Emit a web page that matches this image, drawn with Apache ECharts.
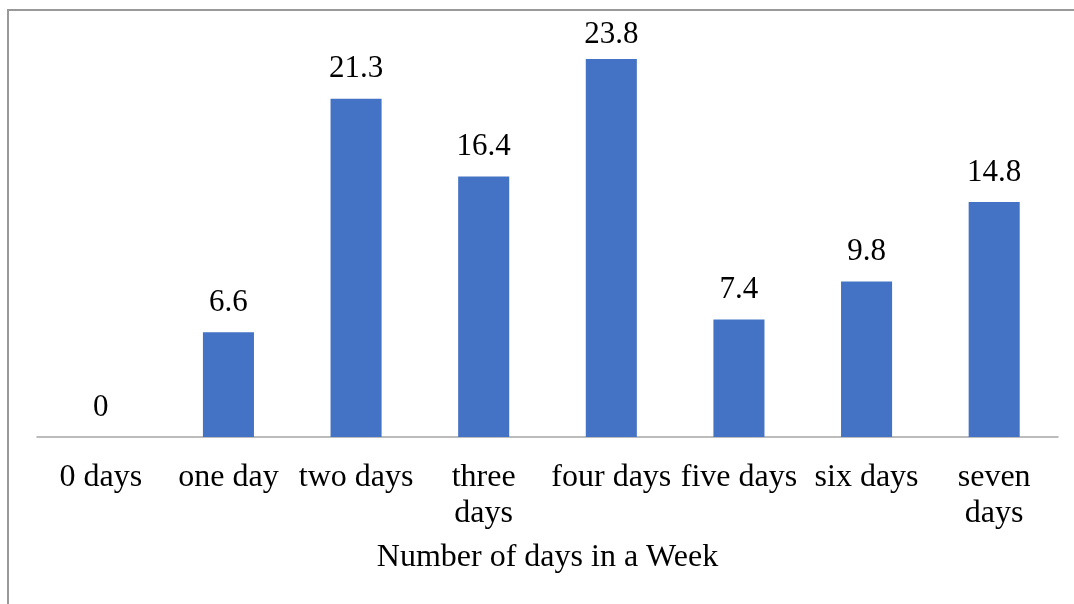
<!DOCTYPE html>
<html>
<head>
<meta charset="utf-8">
<script src="https://cdn.jsdelivr.net/npm/echarts@6/dist/echarts.min.js"></script>
<style>
  html, body { margin: 0; padding: 0; background: #fff; }
  #chart { width: 1074px; height: 604px; }
</style>
</head>
<body>
<div id="chart"></div>
<script>
// Days per week categories and percentage values
const categories = ['0 days', 'one day', 'two days', 'three\ndays', 'four days', 'five days', 'six days', 'seven\ndays'];
const values = [0, 6.6, 21.3, 16.4, 23.8, 7.4, 9.8, 14.8];
const axisTitle = 'Number of days in a Week';

const chart = echarts.init(document.getElementById('chart'));
const font = '"Liberation Serif", "Times New Roman", serif';
const maxValue = Math.max(...values);

// the tallest bar's label sits a little tighter so it stays under the frame
const barData = values.map(v => v === maxValue
  ? { value: v, label: { distance: 9 } }
  : v);

chart.setOption({
  animation: false,
  backgroundColor: '#ffffff',
  grid: { left: 37, right: 16, top: 40, bottom: 167 },
  xAxis: {
    type: 'category',
    data: categories,
    axisLine: { show: true, lineStyle: { color: '#a6a6a6', width: 1.5 } },
    axisTick: { show: false },
    axisLabel: {
      interval: 0,
      color: '#000',
      fontFamily: font,
      fontSize: 32,
      lineHeight: 36,
      margin: 23
    },
    name: axisTitle,
    nameLocation: 'middle',
    nameGap: 105,
    nameTextStyle: { color: '#000', fontFamily: font, fontSize: 32 }
  },
  yAxis: {
    type: 'value',
    min: 0,
    max: 25,
    show: false,
    splitLine: { show: false }
  },
  series: [{
    type: 'bar',
    data: barData,
    barWidth: '40%',
    itemStyle: { color: '#4472C4' },
    label: {
      show: true,
      position: 'top',
      distance: 14,
      color: '#000',
      fontFamily: font,
      fontSize: 31
    }
  }],
  graphic: [
    // page frame: top and left rule lines
    { type: 'rect', shape: { x: 7, y: 9, width: 1067, height: 2 }, style: { fill: '#999999' } },
    { type: 'rect', shape: { x: 7, y: 9, width: 2, height: 595 }, style: { fill: '#999999' } }
  ]
});
</script>
</body>
</html>
